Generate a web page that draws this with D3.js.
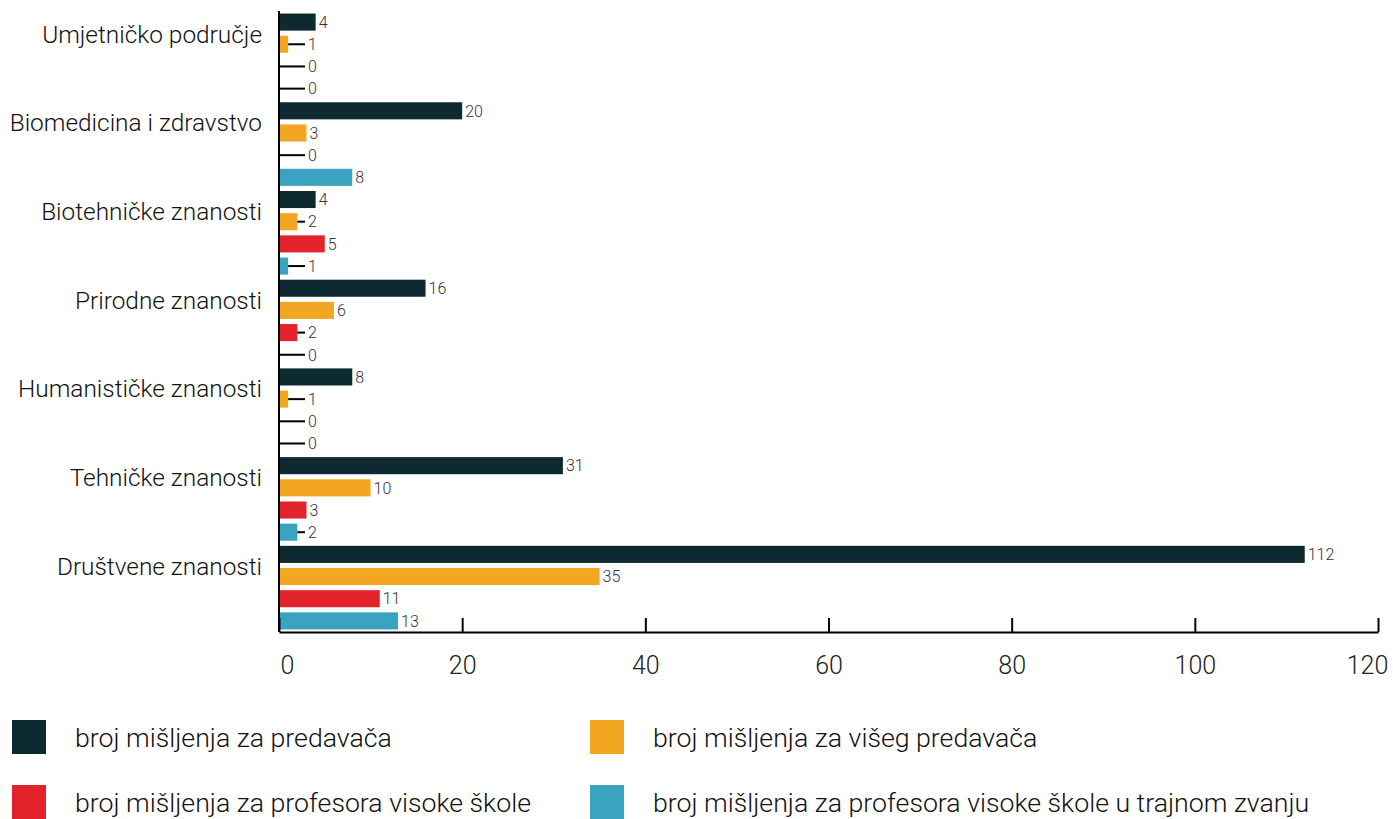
<!DOCTYPE html>
<html>
<head>
<meta charset="utf-8">
<script src="https://cdn.jsdelivr.net/npm/d3@7"></script>
<style>
  body { margin: 0; background: #fff; }
  svg { font-family: Roboto, "Noto Sans", sans-serif; font-weight: 300; }
</style>
</head>
<body>
<svg id="chart" width="1393" height="819"></svg>
<script>
const categories = [
  "Umjetničko područje",
  "Biomedicina i zdravstvo",
  "Biotehničke znanosti",
  "Prirodne znanosti",
  "Humanističke znanosti",
  "Tehničke znanosti",
  "Društvene znanosti"
];
const seriesNames = [
  "broj mišljenja za predavača",
  "broj mišljenja za višeg predavača",
  "broj mišljenja za profesora visoke škole",
  "broj mišljenja za profesora visoke škole u trajnom zvanju"
];
const predavac = [4, 20, 4, 16, 8, 31, 112];
const visiPredavac = [1, 3, 2, 6, 1, 10, 35];
const profesor = [0, 0, 5, 2, 0, 3, 11];
const profesorTrajno = [0, 8, 1, 0, 0, 2, 13];
const xTicks = [0, 20, 40, 60, 80, 100, 120];
const colors = ["#0d2a30", "#f3a621", "#e3232b", "#3aa3c0"];

const seriesValues = [predavac, visiPredavac, profesor, profesorTrajno];
const svg = d3.select("#chart");

const x = d3.scaleLinear().domain([0, 120]).range([279, 1378]);
const y0 = d3.scaleBand().domain(categories).range([11, 632]).padding(0);
const y1 = d3.scaleBand().domain(d3.range(4)).range([0, y0.bandwidth()])
  .paddingInner(0.23).paddingOuter(0.115);

const data = [];
categories.forEach((c, ci) => {
  seriesValues.forEach((s, si) => data.push({ c, si, v: s[ci] }));
});

const g = svg.append("g");
const leaderEnd = 305;

g.selectAll("rect.bar").data(data).enter().append("rect")
  .attr("class", "bar")
  .attr("x", x(0))
  .attr("y", d => y0(d.c) + y1(d.si))
  .attr("width", d => x(d.v) - x(0))
  .attr("height", y1.bandwidth())
  .attr("fill", d => colors[d.si]);

g.selectAll("line.leader").data(data.filter(d => x(d.v) < leaderEnd)).enter().append("line")
  .attr("x1", d => x(d.v))
  .attr("x2", leaderEnd)
  .attr("y1", d => y0(d.c) + y1(d.si) + y1.bandwidth() / 2)
  .attr("y2", d => y0(d.c) + y1(d.si) + y1.bandwidth() / 2)
  .attr("stroke", "#000").attr("stroke-width", 2);

g.selectAll("text.val").data(data).enter().append("text")
  .attr("x", d => Math.max(x(d.v), leaderEnd) + 3)
  .attr("y", d => y0(d.c) + y1(d.si) + y1.bandwidth() / 2)
  .attr("dy", "0.36em")
  .attr("font-size", 16)
  .attr("fill", "#333")
  .text(d => d.v);

// category labels
g.selectAll("text.cat").data(categories).enter().append("text")
  .attr("x", 262)
  .attr("y", d => y0(d) + 23)
  .attr("dy", "0.35em")
  .attr("text-anchor", "end")
  .attr("font-size", 24.4)
  .attr("fill", "#111")
  .text(d => d);

// y axis line
svg.append("line").attr("x1", 279).attr("x2", 279).attr("y1", 11).attr("y2", 632)
  .attr("stroke", "#000").attr("stroke-width", 2);

// x axis
const xAxis = d3.axisBottom(x).tickValues(xTicks).tickSize(-14).tickPadding(0).tickSizeOuter(0);
const ax = svg.append("g").attr("transform", "translate(0,632)").call(xAxis);
ax.select(".domain").attr("stroke", "#000").attr("stroke-width", 2);
ax.selectAll(".tick line").attr("stroke", "#000").attr("stroke-width", 2);
ax.selectAll(".tick text")
  .attr("font-family", "Roboto, sans-serif").attr("font-weight", 300)
  .attr("font-size", 25).attr("fill", "#222")
  .attr("y", 33).attr("dy", "0.35em")
  .attr("dx", (d, i) => i === 0 ? 8 : (i === xTicks.length - 1 ? -11 : 0));

// legend
const legPos = [[12, 720], [590, 720], [12, 785], [590, 785]];
const leg = svg.selectAll("g.leg").data(seriesNames).enter().append("g")
  .attr("transform", (d, i) => `translate(${legPos[i][0]},${legPos[i][1]})`);
leg.append("rect").attr("width", 34).attr("height", 34).attr("fill", (d, i) => colors[i]);
leg.append("text").attr("x", 63).attr("y", 18).attr("dy", "0.35em")
  .attr("font-size", 26.7).attr("fill", "#111").text(d => d);
</script>
</body>
</html>
